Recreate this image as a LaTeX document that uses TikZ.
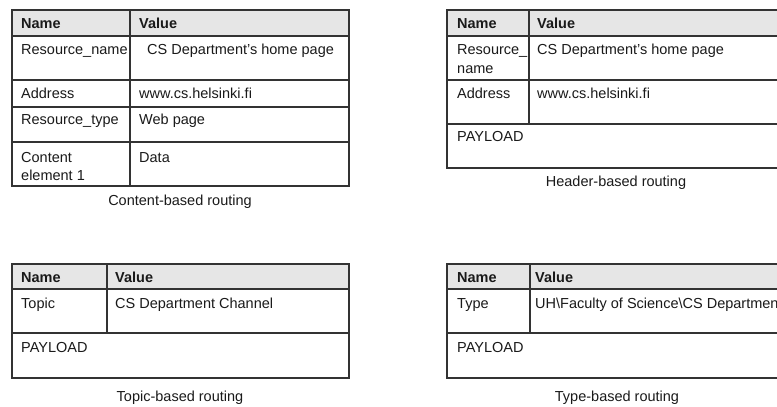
\documentclass[tikz,border=0pt]{standalone}
\usepackage{fontspec}
\setmainfont{Liberation Sans}
\definecolor{gridline}{HTML}{333333}
\definecolor{headfill}{HTML}{E6E6E6}
\definecolor{ink}{HTML}{1A1A1A}
\tikzset{
  frame/.style={draw=gridline, line width=1.3pt},
  inner/.style={draw=gridline, line width=1.1pt},
  txt/.style={anchor=base west, inner sep=0pt, text=ink, font=\fontsize{14.5}{18}\selectfont},
  hdr/.style={txt, font=\fontsize{14.5}{18}\selectfont\bfseries},
  captxt/.style={anchor=base, inner sep=0pt, text=ink, font=\fontsize{14.5}{18}\selectfont},
}
\begin{document}
\begin{tikzpicture}[x=1pt,y=-1pt]
\useasboundingbox (0,0) rectangle (777,407);
\clip (0,0) rectangle (777,407);
\fill[white] (0,0) rectangle (777,407);

% ---------- Table 1: Content-based routing ----------
\fill[headfill] (12,10) rectangle (349,36);
\draw[inner] (12,36) -- (349,36);
\draw[inner] (12,80) -- (349,80);
\draw[inner] (12,107) -- (349,107);
\draw[inner] (12,142) -- (349,142);
\draw[inner] (130,10) -- (130,186);
\draw[frame] (12,10) rectangle (349,186);
\node[hdr] (t1n) at (21,28) {Name};
\node[hdr] (t1v) at (139,28) {Value};
\node[txt] (t1a) at (21,54) {Resource\_name};
\node[txt] (t1b) at (147,54) {CS Department’s home page};
\node[txt] (t1c) at (21,98) {Address};
\node[txt] (t1d) at (139,98) {www.cs.helsinki.fi};
\node[txt] (t1e) at (21,124) {Resource\_type};
\node[txt] (t1f) at (139,124) {Web page};
\node[txt] (t1g) at (21,162) {Content};
\node[txt] (t1h) at (21,180) {element 1};
\node[txt] (t1i) at (139,162) {Data};
\node[captxt] (c1) at (180,205) {Content-based routing};

% ---------- Table 2: Header-based routing ----------
\fill[headfill] (447,10) rectangle (800,36);
\draw[inner] (447,36) -- (800,36);
\draw[inner] (447,80) -- (800,80);
\draw[inner] (447,124) -- (800,124);
\draw[inner] (529,10) -- (529,124);
\draw[frame] (447,10) rectangle (800,168);
\node[hdr] (t2n) at (457,28) {Name};
\node[hdr] (t2v) at (537,28) {Value};
\node[txt] (t2a) at (457,54) {Resource\_};
\node[txt] (t2b) at (457,73) {name};
\node[txt] (t2c) at (537,54) {CS Department’s home page};
\node[txt] (t2d) at (457,98) {Address};
\node[txt] (t2e) at (537,98) {www.cs.helsinki.fi};
\node[txt] (t2f) at (457,141) {PAYLOAD};
\node[captxt] (c2) at (616,186) {Header-based routing};

% ---------- Table 3: Topic-based routing ----------
\fill[headfill] (12,264) rectangle (349,289);
\draw[inner] (12,289) -- (349,289);
\draw[inner] (12,333) -- (349,333);
\draw[inner] (107,264) -- (107,333);
\draw[frame] (12,264) rectangle (349,378);
\node[hdr] (t3n) at (21,282) {Name};
\node[hdr] (t3v) at (115,282) {Value};
\node[txt] (t3a) at (21,308) {Topic};
\node[txt] (t3b) at (115,308) {CS Department Channel};
\node[txt] (t3c) at (21,352) {PAYLOAD};
\node[captxt] (c3) at (180,401) {Topic-based routing};

% ---------- Table 4: Type-based routing ----------
\fill[headfill] (447,264) rectangle (800,289);
\draw[inner] (447,289) -- (800,289);
\draw[inner] (447,333) -- (800,333);
\draw[inner] (530,264) -- (530,333);
\draw[frame] (447,264) rectangle (820,378);
\node[hdr] (t4n) at (457,282) {Name};
\node[hdr] (t4v) at (535,282) {Value};
\node[txt] (t4a) at (457,308) {Type};
\node[txt] (t4b) at (535,308) {UH\textbackslash Faculty of Science\textbackslash CS Department};
\node[txt] (t4c) at (457,352) {PAYLOAD};
\node[captxt] (c4) at (617,401) {Type-based routing};
\end{tikzpicture}
\end{document}
